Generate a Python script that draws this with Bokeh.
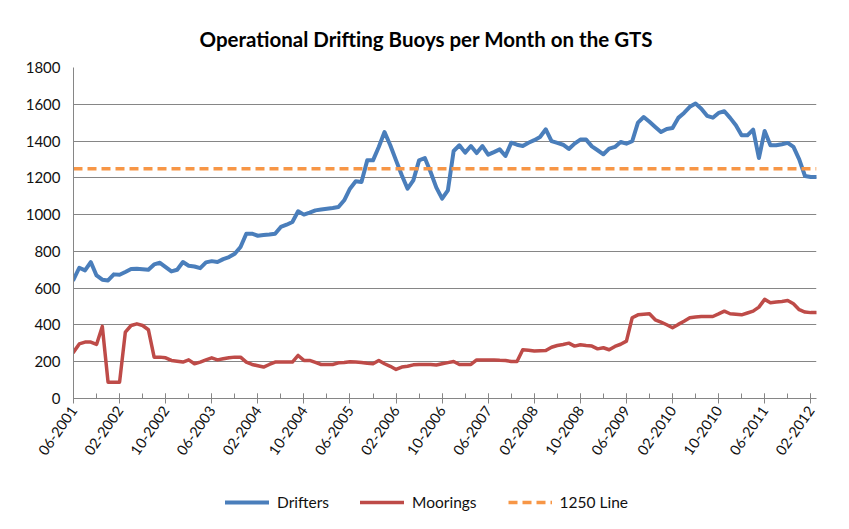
import math
from bokeh.plotting import figure
from bokeh.layouts import column
from bokeh.models import Range1d, FixedTicker, Legend, LegendItem, Title
from bokeh.embed import file_html
from bokeh.resources import INLINE

# Monthly values, 06-2001 ... 03-2012
drifters = [
    646, 711, 697, 742, 669, 646, 642, 675, 673, 688,
    704, 706, 703, 700, 729, 738, 714, 691, 700, 742,
    722, 718, 709, 740, 747, 742, 758, 769, 787, 824,
    896, 896, 885, 889, 892, 896, 933, 945, 960, 1018,
    1000, 1011, 1023, 1028, 1032, 1036, 1041, 1078, 1141, 1181,
    1177, 1295, 1295, 1368, 1449, 1377, 1295, 1214, 1141, 1186,
    1295, 1308, 1232, 1147, 1087, 1132, 1346, 1377, 1337, 1373,
    1335, 1373, 1326, 1340, 1355, 1319, 1391, 1380, 1373, 1391,
    1405, 1422, 1464, 1400, 1390, 1380, 1357, 1386, 1408, 1408,
    1371, 1350, 1328, 1359, 1368, 1395, 1386, 1399, 1500, 1531,
    1505, 1477, 1449, 1466, 1471, 1526, 1553, 1586, 1604, 1576,
    1537, 1527, 1553, 1562, 1526, 1486, 1431, 1431, 1462, 1308,
    1455, 1377, 1377, 1383, 1390, 1368, 1300, 1210, 1205, 1205,
]
moorings = [
    252, 297, 307, 307, 294, 392, 89, 89, 89, 361,
    397, 406, 397, 374, 225, 225, 221, 207, 203, 198,
    210, 189, 198, 210, 221, 210, 216, 222, 225, 225,
    198, 185, 178, 171, 185, 198, 198, 198, 198, 234,
    207, 207, 196, 185, 185, 185, 194, 196, 200, 198,
    196, 192, 189, 207, 189, 175, 158, 171, 175, 183,
    185, 185, 185, 182, 189, 195, 201, 185, 185, 185,
    210, 210, 210, 210, 208, 207, 201, 201, 265, 262,
    258, 260, 261, 279, 288, 294, 301, 285, 292, 288,
    285, 270, 276, 265, 283, 295, 312, 439, 455, 458,
    461, 428, 415, 401, 385, 403, 420, 439, 443, 446,
    446, 446, 460, 475, 461, 458, 455, 465, 475, 497,
    539, 521, 525, 528, 533, 515, 483, 470, 467, 467,
]
line_1250 = [1250] * len(drifters)

series_names = ["Drifters", "Moorings", "1250 Line"]
tick_labels = ["06-2001", "02-2002", "10-2002", "06-2003", "02-2004", "10-2004",
               "06-2005", "02-2006", "10-2006", "06-2007", "02-2008", "10-2008",
               "06-2009", "02-2010", "10-2010", "06-2011", "02-2012"]
y_ticks = [0, 200, 400, 600, 800, 1000, 1200, 1400, 1600, 1800]
title_text = "Operational Drifting Buoys per Month on the GTS"

n = len(drifters)
x = list(range(n))
series = [drifters, moorings, line_1250]
major_ticks = list(range(0, 8 * len(tick_labels), 8))
minor_ticks = list(range(0, 8 * len(tick_labels) - 7, 4))

FONT = "Lato"
GRID = "#868686"
TEXT = "#111111"
STYLES = [dict(line_color="#4A7EBB", line_width=4, line_join="round", line_cap="round"),
          dict(line_color="#BE4B48", line_width=3.5, line_join="round", line_cap="round"),
          dict(line_color="#F79646", line_width=3.5, line_dash="9 5")]

# ---- main chart ----
p = figure(width=849, height=485,
           min_border_left=73, min_border_right=33,
           min_border_top=67, min_border_bottom=87,
           x_range=Range1d(0, n - 1), y_range=Range1d(0, 1800),
           output_backend="svg", toolbar_location=None, title=None)
p.background_fill_color = "white"
p.border_fill_color = "white"
p.outline_line_color = None

for ys, st in zip(series, STYLES):
    p.line(x, ys, **st)

p.xgrid.visible = False
p.ygrid.ticker = FixedTicker(ticks=y_ticks)
p.ygrid.grid_line_color = GRID
p.ygrid.grid_line_width = 1

p.yaxis.ticker = FixedTicker(ticks=y_ticks)
p.yaxis.axis_line_color = GRID
p.yaxis.major_tick_out = 0
p.yaxis.major_tick_in = 0
p.yaxis.minor_tick_out = 0
p.yaxis.minor_tick_in = 0
p.yaxis.major_label_standoff = 13
p.yaxis.major_label_text_font = FONT
p.yaxis.major_label_text_font_size = "15px"
p.yaxis.major_label_text_color = TEXT

p.xaxis.ticker = FixedTicker(ticks=major_ticks, minor_ticks=minor_ticks)
p.xaxis.major_label_overrides = {t: lab for t, lab in zip(major_ticks, tick_labels)}
p.xaxis.axis_line_color = GRID
p.xaxis.major_tick_line_color = GRID
p.xaxis.minor_tick_line_color = GRID
p.xaxis.major_tick_in = 5
p.xaxis.major_tick_out = 5
p.xaxis.minor_tick_in = 5
p.xaxis.minor_tick_out = 0
p.xaxis.major_label_orientation = math.radians(55)
p.xaxis.major_label_standoff = 4
p.xaxis.major_label_text_font = FONT
p.xaxis.major_label_text_font_size = "14.5px"
p.xaxis.major_label_text_color = TEXT

p.add_layout(Title(text=title_text, align="left", offset=126, standoff=34,
                   text_font=FONT, text_font_style="bold", text_font_size="20.5px",
                   text_color="#000000"), "above")

# ---- legend strip (series drawn outside its view, only the legend shows) ----
q = figure(width=849, height=44, min_border=0,
           x_range=Range1d(0, n - 1), y_range=Range1d(-20, -10),
           x_axis_location=None, y_axis_location=None,
           output_backend="svg", toolbar_location=None, title=None)
q.background_fill_color = "white"
q.border_fill_color = "white"
q.outline_line_color = None
q.xgrid.visible = False
q.ygrid.visible = False
legend_renderers = [q.line(x, ys, **st) for ys, st in zip(series, STYLES)]

legend = Legend(items=[LegendItem(label=nm, renderers=[r]) for nm, r in zip(series_names, legend_renderers)],
                orientation="horizontal", location=(152, 18),
                border_line_color=None, background_fill_alpha=0,
                glyph_width=44, glyph_height=14, label_standoff=8, spacing=31,
                label_text_font=FONT, label_text_font_size="15.5px",
                label_text_color=TEXT, margin=0, padding=2)
q.add_layout(legend, "center")

layout = column(p, q, spacing=0)
open("out.html", "w").write(file_html(layout, INLINE))
